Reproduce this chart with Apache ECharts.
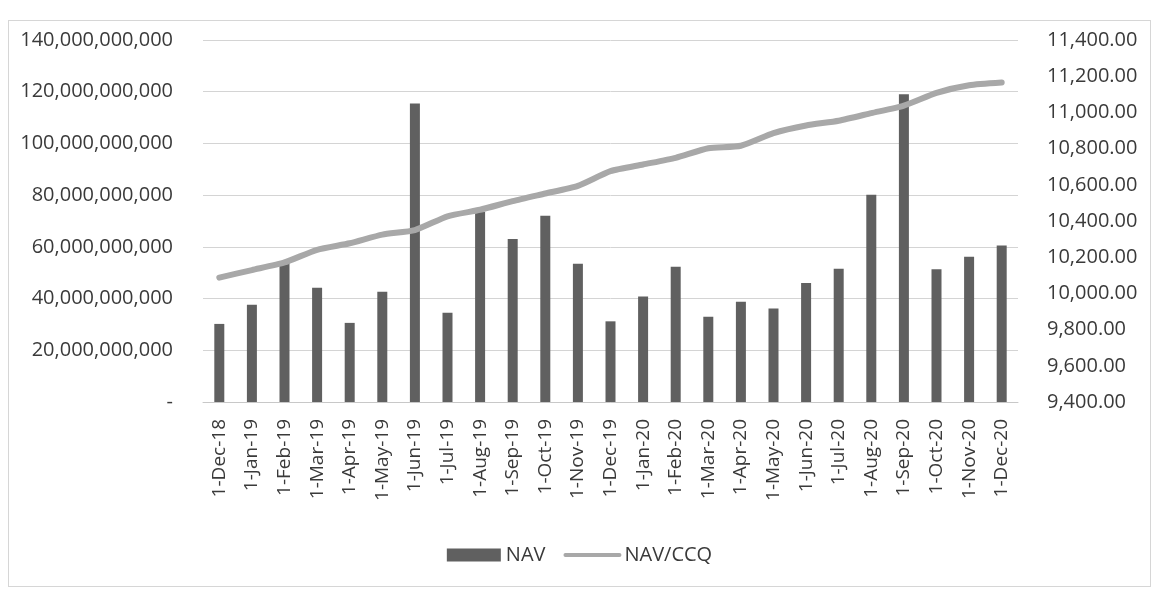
<!DOCTYPE html>
<html>
<head>
    <meta charset="utf-8">
    <title>NAV</title>
    <script src="https://cdn.jsdelivr.net/npm/echarts/dist/echarts.min.js"></script>
    <style>
        html, body { margin: 0; padding: 0; background: #ffffff; }
        #frame {
            position: absolute; left: 8px; top: 20px; width: 1141px; height: 565px;
            border: 1px solid #d6d6d6;
        }
        #chart { position: absolute; left: 0; top: 0; width: 1159px; height: 591px; }
    </style>
</head>
<body>
<div id="frame"></div>
<div id="chart"></div>
<script>
    // 月份
    var months = ['1-Dec-18', '1-Jan-19', '1-Feb-19', '1-Mar-19', '1-Apr-19', '1-May-19', '1-Jun-19',
        '1-Jul-19', '1-Aug-19', '1-Sep-19', '1-Oct-19', '1-Nov-19', '1-Dec-19', '1-Jan-20', '1-Feb-20',
        '1-Mar-20', '1-Apr-20', '1-May-20', '1-Jun-20', '1-Jul-20', '1-Aug-20', '1-Sep-20', '1-Oct-20',
        '1-Nov-20', '1-Dec-20'];
    // NAV, tỷ (billions)
    var navBillions = [30.2, 37.6, 53.9, 44.2, 30.6, 42.6, 115.4, 34.5, 73.5, 63, 72, 53.5, 31.2,
        40.8, 52.3, 33, 38.8, 36.2, 46, 51.5, 80.2, 119, 51.3, 56.2, 60.5];
    // NAV/CCQ
    var navPerUnit = [10087, 10129, 10171, 10241, 10277, 10325, 10350, 10426, 10462, 10510, 10552,
        10594, 10675, 10712, 10749, 10802, 10816, 10886, 10928, 10954, 10996, 11038, 11108, 11150, 11165];

    var navValues = navBillions.map(function (v) { return Math.round(v * 1e9); });

    function withCommas(n) {
        return n.toString().replace(/\B(?=(\d{3})+(?!\d))/g, ',');
    }

    var chart = echarts.init(document.getElementById('chart'));
    var font = '"Open Sans", sans-serif';
    var textColor = '#3a3a3a';

    chart.setOption({
        animation: false,
        textStyle: { fontFamily: font },
        grid: { left: 203, right: 141, top: 40, bottom: 189 },
        legend: {
            left: 'center',
            top: 540,
            itemGap: 18,
            textStyle: { fontFamily: font, fontSize: 20, color: textColor },
            data: [
                { name: 'NAV', icon: 'rect', itemStyle: { color: '#606060' } },
                { name: 'NAV/CCQ', itemStyle: { opacity: 0 }, lineStyle: { width: 4, color: '#a8a8a8' } }
            ],
            itemWidth: 54,
            itemHeight: 13
        },
        xAxis: {
            type: 'category',
            data: months,
            axisLine: { lineStyle: { color: '#c8c8c8' } },
            axisTick: { lineStyle: { color: '#c8c8c8' }, length: 6 },
            axisLabel: {
                rotate: 90, interval: 0, margin: 17,
                fontFamily: font, fontSize: 19, color: textColor
            }
        },
        yAxis: [
            {
                type: 'value',
                min: 0, max: 140e9, interval: 20e9,
                axisLine: { show: false },
                axisTick: { show: false },
                splitLine: { lineStyle: { color: '#d4d4d4' } },
                axisLabel: {
                    margin: 30, fontFamily: font, fontSize: 20, color: textColor,
                    formatter: function (v) { return v === 0 ? '-' : withCommas(v); }
                }
            },
            {
                type: 'value',
                min: 9400, max: 11400, interval: 200,
                axisLine: { show: false },
                axisTick: { show: false },
                splitLine: { show: false },
                axisLabel: {
                    margin: 29, fontFamily: font, fontSize: 20, color: textColor,
                    formatter: function (v) { return withCommas(v.toFixed(2)).replace(/,(\d\d)$/, '$1'); }
                }
            }
        ],
        series: [
            {
                name: 'NAV',
                type: 'bar',
                data: navValues,
                barWidth: 10,
                itemStyle: { color: '#606060' }
            },
            {
                name: 'NAV/CCQ',
                type: 'line',
                yAxisIndex: 1,
                data: navPerUnit,
                symbol: 'none',
                smooth: 0.2,
                lineStyle: { color: '#a8a8a8', width: 6, cap: 'round' },
                itemStyle: { color: '#a8a8a8' }
            }
        ]
    });
</script>
</body>
</html>
